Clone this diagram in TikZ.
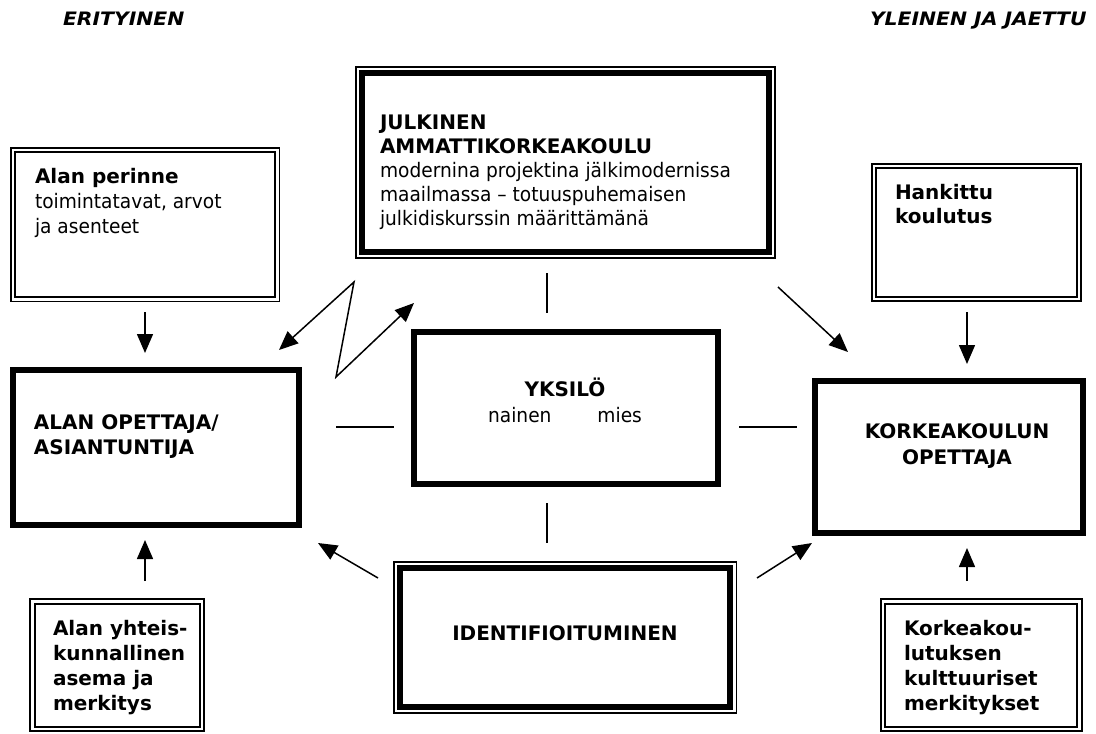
\documentclass[tikz,border=0pt]{standalone}
\usepackage{fontspec}
\setmainfont{DejaVu Sans}[UprightFeatures={FakeStretch=0.93}]
\usetikzlibrary{arrows.meta,calc}
\newcommand{\mytab}[2][l]{\begin{tabular}[t]{@{}#1@{}}#2\end{tabular}}
\newcommand{\fsz}[1]{\fontsize{20}{#1}\selectfont}
\begin{document}
\begin{tikzpicture}[x=1pt,y=-1pt,
  dblbox/.style={draw, double, double distance=2.6pt, line width=1.9pt, outer sep=0pt, inner sep=0pt},
  heavybox/.style={draw, line width=6pt, outer sep=0pt, inner sep=0pt},
  outerline/.style={line width=1.6pt},
  txt/.style={inner sep=0pt, outer sep=0pt},
  arr/.style={line width=1.5pt, -{Triangle[length=19pt,width=16pt]}},
  conn/.style={line width=1.5pt},
  hdr/.style={inner sep=0pt, outer sep=0pt, anchor=base west, font=\fontsize{18.5}{22}\selectfont\bfseries\itshape}
]
\useasboundingbox (0,0) rectangle (1096,734);

% boxes
\node[dblbox, minimum width=264.4pt, minimum height=149.4pt] (perinne) at (145,224.5) {};
\node[heavybox, minimum width=407pt, minimum height=179pt] (julkinen) at (565.5,162.5) {};
\draw[outerline] ($(julkinen.north west)+(-6,-6)$) rectangle ($(julkinen.south east)+(6,6)$);
\node[dblbox, minimum width=204.8pt, minimum height=132.8pt] (hankittu) at (976.5,232.5) {};
\node[heavybox, minimum width=286pt, minimum height=155pt] (opettaja) at (156,447.5) {};
\node[heavybox, minimum width=304pt, minimum height=152pt] (yksilo) at (566,408) {};
\node[heavybox, minimum width=268pt, minimum height=152pt] (korkea) at (949,457) {};
\node[heavybox, minimum width=330.6pt, minimum height=139pt] (ident) at (565,637.4) {};
\draw[outerline] ($(ident.north west)+(-6,-6)$) rectangle ($(ident.south east)+(6,6)$);
\node[dblbox, minimum width=169.5pt, minimum height=127.5pt] (yhteis) at (117.2,665.2) {};
\node[dblbox, minimum width=196.5pt, minimum height=127.5pt] (korkeak) at (981.4,665.2) {};

% texts
\node[hdr] (h1) at (63,25) {\scalebox{1.1}[1]{ERITYINEN}};
\node[hdr] (h2) at (870,25) {\scalebox{1.1}[1]{YLEINEN JA JAETTU}};

\node[txt, anchor=base west] (tperinne) at (35,183) {\fsz{25}\mytab{\textbf{Alan perinne}\\ toimintatavat, arvot\\ ja asenteet}};
\node[txt, anchor=base west] (tjulk) at (380,129) {\fsz{24}\mytab{\textbf{JULKINEN}\\ \textbf{AMMATTIKORKEAKOULU}\\ modernina projektina jälkimodernissa\\ maailmassa – totuuspuhemaisen\\ julkidiskurssin määrittämänä}};
\node[txt, anchor=base west] (thank) at (895,199) {\fsz{24}\bfseries\mytab{Hankittu\\ koulutus}};
\node[txt, anchor=base west] (topet) at (34,429) {\fsz{25.5}\bfseries\mytab{ALAN OPETTAJA/\\ ASIANTUNTIJA}};
\node[txt, anchor=base] (tyks) at (565,396) {\fsz{26}\mytab[c]{\textbf{YKSILÖ}\\ nainen\hspace{46pt}mies\hspace{28pt}}};
\node[txt, anchor=base] (tkork) at (957,438) {\fsz{26.7}\bfseries\mytab[c]{KORKEAKOULUN\\ OPETTAJA}};
\node[txt, anchor=base] (tident) at (565,640) {\fsz{24}\bfseries IDENTIFIOITUMINEN};
\node[txt, anchor=base west] (tyht) at (53,635) {\fsz{25}\bfseries\mytab{Alan yhteis-\\ kunnallinen\\ asema ja\\ merkitys}};
\node[txt, anchor=base west] (tkorkk) at (904,635) {\fsz{25}\bfseries\mytab{Korkeakou-\\ lutuksen\\ kulttuuriset\\ merkitykset}};

% arrows
\draw[arr] ($(perinne.south)+(0,12.8)$) -- ($(perinne.south |- opettaja.north)+(0,-17)$);
\draw[arr] ($(perinne.south |- yhteis.north)+(0,-20.4)$) -- ($(perinne.south |- opettaja.south)+(0,15)$);
\draw[arr] ($(hankittu.south)+(-9.5,13.1)$) -- ($(hankittu.south |- korkea.north)+(-9.5,-17)$);
\draw[arr] ($(korkeak.north)+(-14.4,-20.4)$) -- ($(korkeak.north |- korkea.south)+(-14.4,15)$);
\draw[arr] ($(julkinen.south east)+(9,35)$) -- ($(korkea.north west)+(33,-29)$);
\draw[arr] ($(ident.north west)+(-21.7,10.1)$) -- ($(opettaja.south east)+(19,18)$);
\draw[arr] ($(ident.north east)+(26.7,10.1)$) -- ($(korkea.south west)+(-3,10)$);

% lightning double arrow
\coordinate (zt) at (354,282);
\coordinate (zb) at (336,377);
\draw[line width=1.5pt, {Triangle[length=19pt,width=16pt]}-{Triangle[length=19pt,width=16pt]}]
  ($(opettaja.north east)+(-20,-20)$) -- (zt) -- (zb) -- ($(julkinen.south west)+(52,51)$);

% short lines
\draw[conn] ($(julkinen.south)+(-18.5,21)$) -- ($(julkinen.south |- yksilo.north)+(-18.5,-19)$);
\draw[conn] ($(julkinen.south |- yksilo.south)+(-18.5,19)$) -- ($(julkinen.south |- ident.north)+(-18.5,-24.9)$);
\draw[conn] ($(opettaja.east)+(37,-20.5)$) -- ($(yksilo.west)+(-20,19)$);
\draw[conn] ($(yksilo.east)+(21,19)$) -- ($(korkea.west)+(-18,-30)$);
\end{tikzpicture}
\end{document}
